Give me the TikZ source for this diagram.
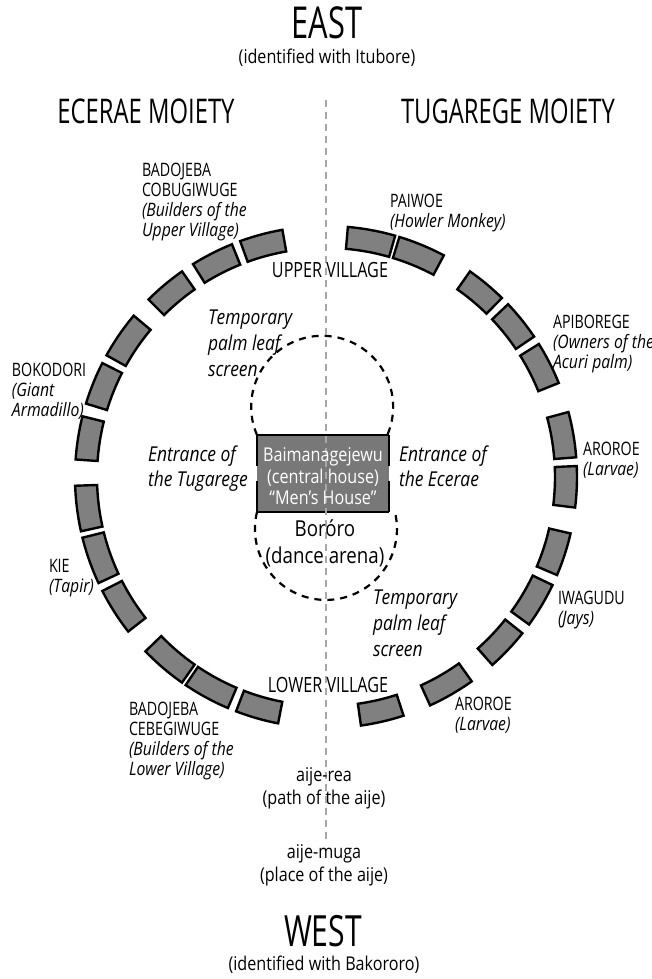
\documentclass[tikz,border=0pt]{standalone}
\usepackage{fontspec}
\setmainfont{Open Sans}[FakeStretch=0.85]
\newfontfamily\fcaps{Open Sans}[FakeStretch=0.77]
\newfontfamily\ftitle{Open Sans}[FakeStretch=0.70]
\usetikzlibrary{calc}
\definecolor{hutgray}{HTML}{808080}
\definecolor{boxgray}{HTML}{787878}
\definecolor{axisgray}{HTML}{A8A8A8}
\newcommand\subl[1]{{\rmfamily\itshape #1}}
\newcommand\hut[2]{\draw[hutstyle] ([shift={(#1:229)}]C) arc[start angle=#1,end angle=#2,radius=229] -- ([shift={(#2:251)}]C) arc[start angle=#2,end angle=#1,radius=251] -- cycle;}
\tikzset{
  hutstyle/.style={fill=hutgray, draw=black, line width=2.4pt, line join=miter},
  screenline/.style={draw=black, line width=2.2pt, dash pattern=on 7pt off 6pt},
  axisline/.style={draw=axisgray, line width=2.4pt, dash pattern=on 7pt off 5pt},
  txt/.style={inner sep=0pt, outer sep=0pt},
  capslab/.style={txt, anchor=base west, align=left, font=\fcaps\fontsize{18.5}{20}\selectfont},
  innerlab/.style={txt, anchor=base west, align=left, font=\rmfamily\itshape\fontsize{20.5}{26}\selectfont},
  village/.style={txt, anchor=base, font=\fcaps\fontsize{21}{24}\selectfont},
  title/.style={txt, anchor=base, font=\ftitle\fontsize{44}{48}\selectfont},
  moiety/.style={txt, anchor=base, font=\ftitle\fontsize{34}{38}\selectfont},
  plain/.style={txt, anchor=base, align=center, font=\rmfamily\fontsize{19}{23}\selectfont},
}
\begin{document}
\begin{tikzpicture}[x=1pt,y=1pt]
\useasboundingbox (0,0) rectangle (652,979);
\fill[white] (0,0) rectangle (652,979);
\coordinate (C) at (326,502);
% houses (angles in degrees, counter-clockwise from east)
\hut{74}{85}
\hut{62}{73}
\hut{45.5}{55}
\hut{34}{43.5}
\hut{22}{32}
\hut{4.5}{15}
\hut{-7}{2.5}
\hut{-23}{-13}
\hut{-36}{-25.5}
\hut{-48.5}{-38.5}
\hut{-65.5}{-54.5}
\hut{-82}{-72}
\hut{-111}{-101}
\hut{-124}{-113}
\hut{-136}{-125}
\hut{-153}{-142}
\hut{-166}{-155}
\hut{-178}{-167.5}
\hut{166}{176}
\hut{153}{163}
\hut{140}{151}
\hut{125}{135}
\hut{112}{122}
\hut{100}{110}
% central house
\coordinate (BTL) at (257,544);
\coordinate (BTR) at (389,544);
\coordinate (BBL) at (257,467);
\coordinate (BBR) at (389,467);
\fill[boxgray] (BTL) rectangle (BBR);
% palm leaf screens
\draw[screenline] (BTL) arc[start angle=203.4, end angle=-23.4, radius=71];
\draw[screenline] (BBL) arc[start angle=166.2, end angle=373.8, radius=71];
% central house walls
\draw[line width=2.6pt] (BTL) -- (BTR);
\draw[line width=2.6pt] (BBL) -- (BBR);
\draw[line width=2.6pt] (BTL) -- (257,513);
\draw[line width=2.6pt] (257,498) -- (BBL);
\draw[line width=2.6pt] (BTR) -- (389,513);
\draw[line width=2.6pt] (389,498) -- (BBR);
% east-west axis
\coordinate (axtop) at (326,879);
\coordinate (axbot) at (326,136);
\draw[axisline] (axtop) -- (axbot);
% texts (multi-line nodes are placed by the baseline of their last line)
\node[title] (east) at (327,940) {EAST};
\node[plain] (eastsub) at (327,915) {(identified with Itubore)};
\node[moiety] (ecerae) at (146,855) {ECERAE MOIETY};
\node[moiety] (tugarege) at (508,855) {TUGAREGE MOIETY};
\node[capslab] (badu) at (142,742) {BADOJEBA\\COBUGIWUGE\\\subl{(Builders of the}\\\subl{Upper Village)}};
\node[capslab] (paiwoe) at (390,751) {PAIWOE\\\subl{(Howler Monkey)}};
\node[capslab] (apib) at (553,610) {APIBOREGE\\\subl{(Owners of the}\\\subl{Acuri palm)}};
\node[capslab] (boko) at (12,562) {BOKODORI\\\subl{(Giant}\\\subl{Armadillo)}};
\node[capslab] (aror1) at (583,503) {AROROE\\\subl{(Larvae)}};
\node[capslab] (kie) at (49,386) {KIE\\\subl{(Tapir)}};
\node[capslab] (iwag) at (558,354) {IWAGUDU\\\subl{(Jays)}};
\node[capslab] (aror2) at (455,248) {AROROE\\\subl{(Larvae)}};
\node[capslab] (badl) at (129,203) {BADOJEBA\\CEBEGIWUGE\\\subl{(Builders of the}\\\subl{Lower Village)}};
\node[village] (upper) at (330,701) {UPPER VILLAGE};
\node[village] (lower) at (328,286) {LOWER VILLAGE};
\node[innerlab] (scr1) at (208,602) {Temporary\\palm leaf\\screen};
\node[innerlab] (scr2) at (373,322) {Temporary\\palm leaf\\screen};
\node[innerlab, font=\rmfamily\itshape\fontsize{20.5}{25}\selectfont] (entT) at (148,492) {Entrance of\\the Tugarege};
\node[innerlab, font=\rmfamily\itshape\fontsize{20.5}{25}\selectfont] (entE) at (399,492) {Entrance of\\the Ecerae};
\node[plain, text=white, font=\rmfamily\fontsize{19}{21.5}\selectfont] (men) at (323,474) {Baimanagejewu\\(central house)\\“Men’s House”};
\node[plain, font=\rmfamily\fontsize{22}{27}\selectfont] (bororo) at (325,415) {Boróro\\(dance arena)};
\node[plain] (rea) at (324,174) {aije-rea\\(path of the aije)};
\node[plain] (muga) at (324,97) {aije-muga\\(place of the aije)};
\node[title, font=\ftitle\fontsize{43}{48}\selectfont] (west) at (323,32) {WEST};
\node[plain] (westsub) at (324,9) {(identified with Bakororo)};
\end{tikzpicture}
\end{document}
